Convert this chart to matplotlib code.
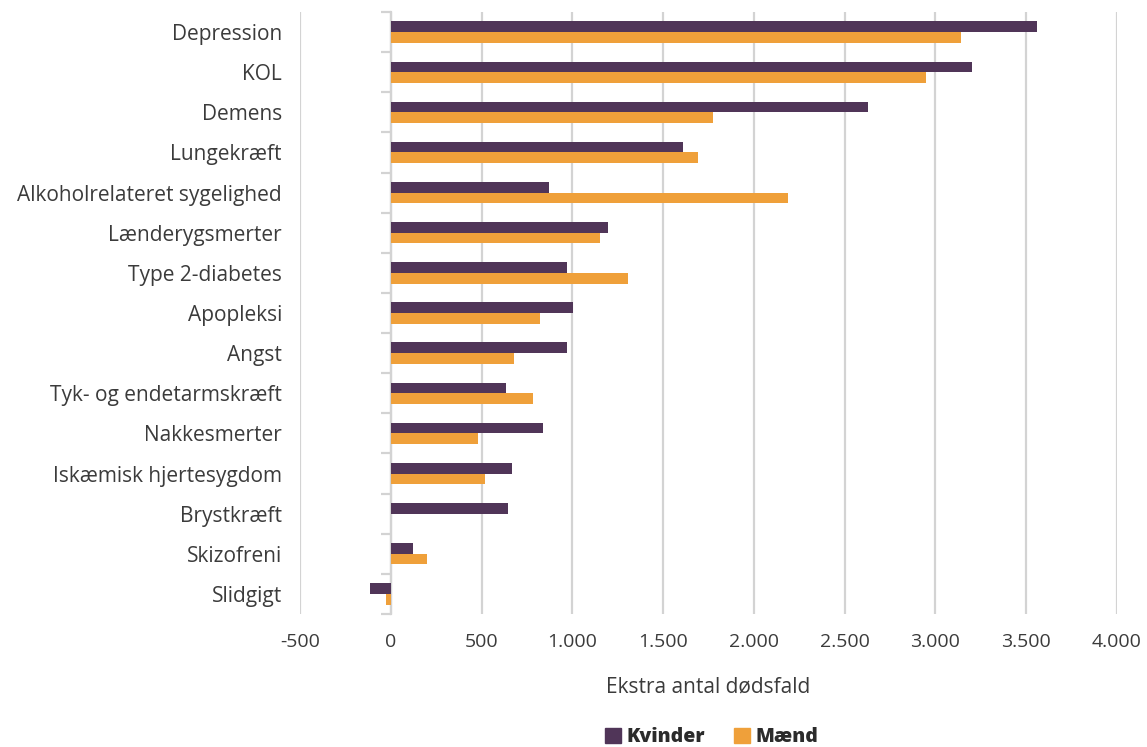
import matplotlib
matplotlib.use("Agg")
import matplotlib.pyplot as plt
from matplotlib.ticker import FuncFormatter, FixedLocator
from matplotlib.patches import Patch
import numpy as np

categories = ["Depression", "KOL", "Demens", "Lungekræft", "Alkoholrelateret sygelighed",
              "Lænderygsmerter", "Type 2-diabetes", "Apopleksi", "Angst",
              "Tyk- og endetarmskræft", "Nakkesmerter", "Iskæmisk hjertesygdom",
              "Brystkræft", "Skizofreni", "Slidgigt"]
kvinder = [3560, 3200, 2630, 1607, 873, 1196, 968, 1005, 968, 632, 838, 669, 647, 122, -113]
maend = [3142, 2950, 1775, 1694, 2186, 1152, 1308, 821, 676, 786, 483, 521, 0, 197, -25]
xticks = [-500, 0, 500, 1000, 1500, 2000, 2500, 3000, 3500, 4000]

plt.rcParams['font.family'] = ['Open Sans', 'DejaVu Sans']
text_color = "#3b3b3b"
c_k = "#503558"
c_m = "#EFA03A"
grid_c = "#d3d3d3"

fig = plt.figure(figsize=(11.47, 7.47), dpi=100)
ax = fig.add_axes([300/1147, 1-614/747, 817/1147, 602/747])

y = np.arange(len(categories))
h = 0.265
ax.barh(y - h/2, kvinder, height=h, color=c_k, zorder=3)
ax.barh(y + h/2, maend, height=h, color=c_m, zorder=3)

ax.set_ylim(len(categories) - 0.5, -0.5)
ax.set_xlim(-500, 4000)
ax.set_xticks(xticks)
ax.xaxis.set_major_formatter(FuncFormatter(lambda v, p: f"{int(v):,}".replace(",", ".")))
ax.set_yticks(y)
ax.set_yticklabels(categories)
ax.tick_params(axis='y', length=0, pad=13, labelsize=15, labelcolor=text_color)
ax.tick_params(axis='x', length=0, pad=14, labelsize=14, labelcolor=text_color)
for s in ax.spines.values():
    s.set_visible(False)
ax.grid(axis='x', color=grid_c, linewidth=1.6, zorder=0)
ax.set_axisbelow(True)

sec = ax.secondary_yaxis(500/4500)
sec.yaxis.set_major_locator(FixedLocator(np.arange(len(categories) + 1) - 0.5))
sec.tick_params(axis='y', length=7, width=1.6, color=grid_c, labelleft=False, labelright=False)
sec.spines['left'].set_color(grid_c)
sec.spines['left'].set_linewidth(1.6)

ax.set_xlabel("Ekstra antal dødsfald", fontsize=15, color=text_color, labelpad=18)

handles = [Patch(color=c_k, label="Kvinder"), Patch(color=c_m, label="Mænd")]
fig.legend(handles=handles, loc='center', bbox_to_anchor=(712/1147, 1-737/747), ncol=2,
           frameon=False, handlelength=0.8, handleheight=0.8, handletextpad=0.3,
           columnspacing=1.5, prop={'weight': 'heavy', 'size': 14}, labelcolor="#2b2b2b")

fig.savefig("out.png", dpi=100)
